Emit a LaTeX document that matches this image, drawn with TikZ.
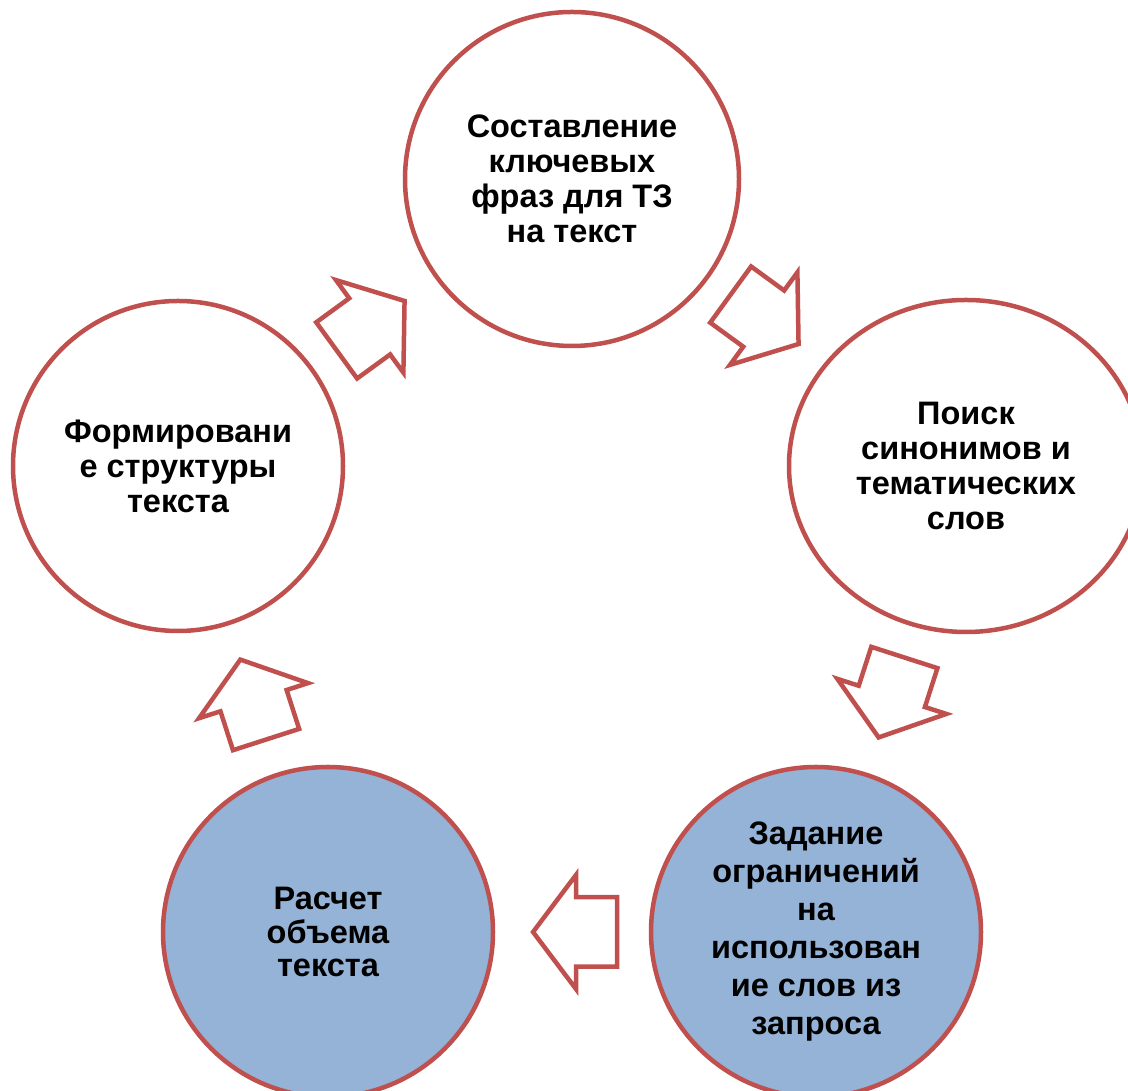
\documentclass[tikz,border=0pt]{standalone}
\usepackage{fontspec}
\setmainfont{Liberation Sans}
\usetikzlibrary{shapes.geometric,shapes.arrows}
\definecolor{cyred}{HTML}{C0504D}
\definecolor{cyblue}{HTML}{95B3D7}

\begin{document}
\begin{tikzpicture}[x=1pt,y=1pt,
    stage/.style={circle,draw=cyred,line width=4.5pt,fill=white,minimum size=330pt,inner sep=0pt,align=center,font=\bfseries\fontsize{32.5}{35}\selectfont},
    cyarrow/.style={single arrow,draw=cyred,line width=4.5pt,fill=white,minimum height=84pt,inner xsep=0pt,inner ysep=32.5pt,single arrow head extend=22.5pt,single arrow tip angle=106,sloped,allow upside down}]
  \useasboundingbox (0,0) rectangle (1128,1091);
  % stages of the cycle
  \node[stage,minimum size=334pt] (keys) at (572,912) {Составление\\ключевых\\фраз для ТЗ\\на текст};
  \node[stage,ellipse,minimum width=354pt,minimum height=332pt] (syn) at (966,625) {Поиск\\синонимов и\\тематических\\слов};
  \node[stage,fill=cyblue,font=\bfseries\fontsize{32.5}{38}\selectfont] (limit) at (816,159) {Задание\\ограничений\\на\\использован\\ие слов из\\запроса};
  \node[stage,fill=cyblue,font=\bfseries\fontsize{32.5}{33.5}\selectfont] (volume) at (328,159) {Расчет\\объема\\текста};
  \node[stage] (struct) at (178,625) {Формировани\\е структуры\\текста};
  % block arrows between stages
  \path (struct.center) -- node[cyarrow,pos=0.462] (a1) {} (keys.center);
  \path (keys.center) -- node[cyarrow,pos=0.462] (a2) {} (syn.center);
  \path (syn.center) -- node[cyarrow,pos=0.470] (a3) {} (limit.center);
  \path (limit.center) -- node[cyarrow,pos=0.467] (a4) {} (volume.center);
  \path (volume.center) -- node[cyarrow,pos=0.472] (a5) {} (struct.center);
\end{tikzpicture}
\end{document}
